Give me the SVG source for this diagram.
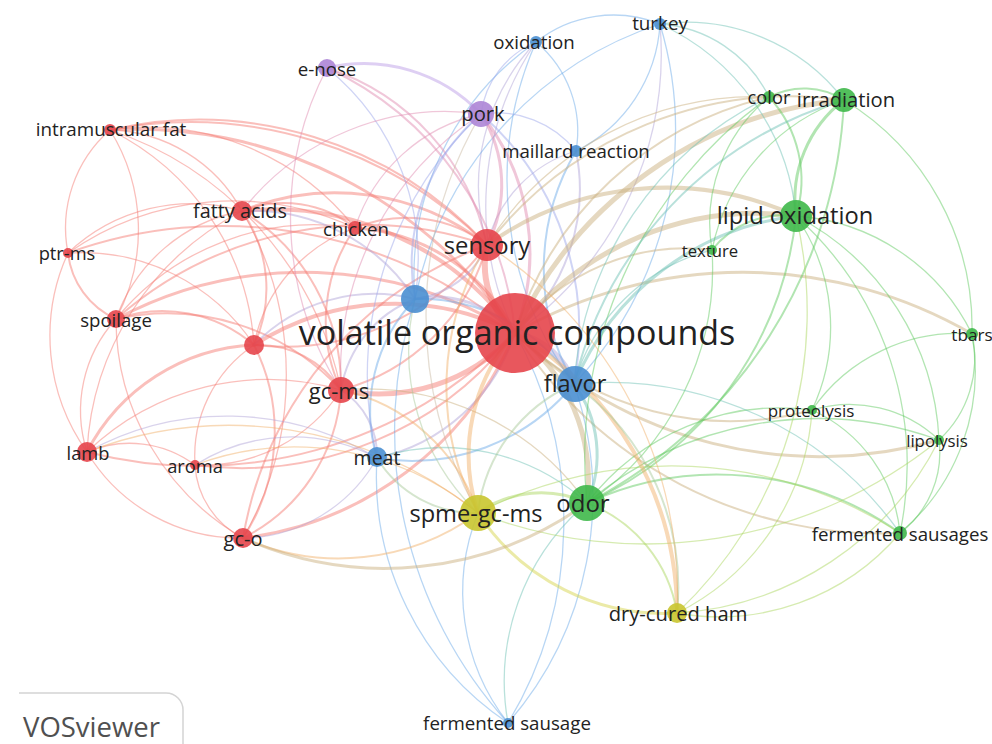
<svg xmlns="http://www.w3.org/2000/svg" width="992" height="744" viewBox="0 0 992 744">
<style>
.e path{fill:none;stroke-linecap:round;stroke-opacity:.48}
.r{stroke:#f47a70}.b{stroke:#6aaae8}.g{stroke:#5ec85e}.y{stroke:#d6d448}.p{stroke:#bb9ae6}
.rg{stroke:#c8ae7c}.rb{stroke:#b0a2d8}.ry{stroke:#f0b068}.bg{stroke:#6cc0b4}.bp{stroke:#9aa6ea}
.gy{stroke:#aad65c}.pr{stroke:#e08ab0}.by{stroke:#a8c898}.pg{stroke:#a8b8a0}.py{stroke:#c8b8a0}
.w1{stroke-width:1.3}.w2{stroke-width:2}.w3{stroke-width:3}.w4{stroke-width:4}.w5{stroke-width:5}.w6{stroke-width:6}
.n circle{fill-opacity:.9}
.cr{fill:#e6454b}.cb{fill:#4a8fd2}.cg{fill:#3fb84a}.cy{fill:#c9c52f}.cp{fill:#ad85d6}
text{font-family:"Open Sans","Noto Sans","DejaVu Sans",sans-serif;fill:#222;text-anchor:middle;dominant-baseline:central}
</style>
<rect width="992" height="744" fill="#fff"/>
<g id="connectors" class="e">
<path class="r w6" d="M515 333A92 92 0 0 1 487 245"/>
<path class="r w5" d="M515 333A183 183 0 0 1 341 390"/>
<path class="r w4" d="M515 333A299 299 0 0 0 242 211"/>
<path class="r w3" d="M515 333A191 191 0 0 0 355 228"/>
<path class="r w4" d="M515 333A261 261 0 0 0 254 345"/>
<path class="r w3" d="M515 333A399 399 0 0 0 116 319"/>
<path class="r w2" d="M515 333A444 444 0 0 1 87 452"/>
<path class="r w2" d="M515 333A346 346 0 0 1 195 465"/>
<path class="r w3" d="M515 333A340 340 0 0 1 243 538"/>
<path class="r w3" d="M515 333A453 453 0 0 0 110 130"/>
<path class="r w2" d="M515 333A454 454 0 0 0 68 253"/>
<path class="r w3" d="M487 245A247 247 0 0 0 242 211"/>
<path class="r w2" d="M487 245A133 133 0 0 0 355 228"/>
<path class="r w2" d="M487 245A206 206 0 0 1 341 390"/>
<path class="r w2" d="M487 245A394 394 0 0 0 110 130"/>
<path class="r w2" d="M487 245A254 254 0 0 1 254 345"/>
<path class="r w2" d="M487 245A378 378 0 0 0 116 319"/>
<path class="r w2" d="M242 211A135 135 0 0 1 254 345"/>
<path class="r w2" d="M242 211A205 205 0 0 1 341 390"/>
<path class="r w1" d="M242 211A155 155 0 0 0 110 130"/>
<path class="r w1" d="M242 211A179 179 0 0 0 68 253"/>
<path class="r w1" d="M242 211A166 166 0 0 0 116 319"/>
<path class="r w1" d="M242 211A287 287 0 0 0 87 452"/>
<path class="r w1" d="M242 211A327 327 0 0 1 243 538"/>
<path class="r w2" d="M242 211A114 114 0 0 1 355 228"/>
<path class="r w2" d="M341 390A98 98 0 0 0 254 345"/>
<path class="r w1" d="M341 390A261 261 0 0 0 87 452"/>
<path class="r w2" d="M341 390A178 178 0 0 1 243 538"/>
<path class="r w1" d="M341 390A164 164 0 0 1 195 465"/>
<path class="r w2" d="M341 390A236 236 0 0 0 116 319"/>
<path class="r w2" d="M341 390A163 163 0 0 1 355 228"/>
<path class="r w2" d="M254 345A140 140 0 0 0 116 319"/>
<path class="r w3" d="M254 345A198 198 0 0 0 87 452"/>
<path class="r w2" d="M254 345A193 193 0 0 1 243 538"/>
<path class="r w1" d="M254 345A207 207 0 0 0 68 253"/>
<path class="r w1" d="M87 452A136 136 0 0 1 116 319"/>
<path class="r w1" d="M87 452A200 200 0 0 1 68 253"/>
<path class="r w1" d="M87 452A178 178 0 0 0 243 538"/>
<path class="r w1" d="M87 452A109 109 0 0 1 195 465"/>
<path class="r w2" d="M68 253A82 82 0 0 0 116 319"/>
<path class="r w1" d="M68 253A130 130 0 0 1 110 130"/>
<path class="r w1" d="M110 130A189 189 0 0 1 116 319"/>
<path class="r w1" d="M110 130A348 348 0 0 1 341 390"/>
<path class="r w1" d="M110 130A259 259 0 0 1 254 345"/>
<path class="r w1" d="M195 465A87 87 0 0 0 243 538"/>
<path class="r w1" d="M195 465A134 134 0 0 1 254 345"/>
<path class="r w2" d="M243 538A381 381 0 0 1 487 245"/>
<path class="r w1" d="M243 538A253 253 0 0 1 116 319"/>
<path class="r w1" d="M355 228A155 155 0 0 0 254 345"/>
<path class="r w1" d="M68 253A288 288 0 0 1 355 228"/>
<path class="r w1" d="M116 319A256 256 0 0 1 355 228"/>
<path class="r w1" d="M110 130A264 264 0 0 1 355 228"/>
<path class="r w2" d="M110 130A420 420 0 0 1 487 245"/>
<path class="rb w3" d="M515 333A106 106 0 0 0 415 299"/>
<path class="rb w2" d="M341 390A77 77 0 0 1 377 458"/>
<path class="rb w2" d="M515 333A186 186 0 0 1 377 458"/>
<path class="rb w2" d="M487 245A90 90 0 0 1 415 299"/>
<path class="rb w2" d="M341 390A117 117 0 0 1 415 299"/>
<path class="rb w2" d="M242 211A194 194 0 0 1 415 299"/>
<path class="rb w2" d="M254 345A167 167 0 0 1 415 299"/>
<path class="rb w1" d="M87 452A290 290 0 0 1 377 458"/>
<path class="rb w1" d="M195 465A182 182 0 0 1 377 458"/>
<path class="rb w1" d="M243 538A156 156 0 0 0 377 458"/>
<path class="rb w1" d="M487 245A129 129 0 0 1 576 151"/>
<path class="rb w1" d="M487 245A209 209 0 0 1 536 42"/>
<path class="rb w2" d="M515 333A192 192 0 0 0 576 151"/>
<path class="rb w1" d="M515 333A292 292 0 0 1 536 42"/>
<path class="rb w1" d="M515 333A341 341 0 0 0 660 24"/>
<path class="rb w6" d="M515 333A78 78 0 0 1 574 384"/>
<path class="b w2" d="M574 384A180 180 0 0 0 415 299"/>
<path class="b w2" d="M574 384A210 210 0 0 1 377 458"/>
<path class="b w2" d="M574 384A233 233 0 0 1 576 151"/>
<path class="b w1" d="M574 384A344 344 0 0 1 536 42"/>
<path class="b w1" d="M574 384A370 370 0 0 0 660 24"/>
<path class="b w1" d="M536 42A125 125 0 0 1 660 24"/>
<path class="b w1" d="M536 42A116 116 0 0 1 576 151"/>
<path class="b w1" d="M576 151A152 152 0 0 0 660 24"/>
<path class="b w2" d="M415 299A163 163 0 0 0 377 458"/>
<path class="b w1" d="M415 299A284 284 0 0 1 536 42"/>
<path class="b w1" d="M415 299A368 368 0 0 1 660 24"/>
<path class="b w1" d="M508 723A345 345 0 0 0 574 384"/>
<path class="b w1" d="M508 723A212 212 0 0 1 478 513"/>
<path class="b w1" d="M508 723A296 296 0 0 1 377 458"/>
<path class="b w1" d="M508 723A390 390 0 0 0 515 333"/>
<path class="bg w1" d="M508 723A234 234 0 0 1 587 503"/>
<path class="b w1" d="M508 723A434 434 0 0 1 415 299"/>
<path class="by w2" d="M377 458A115 115 0 0 0 478 513"/>
<path class="bp w1" d="M536 42A91 91 0 0 0 481 114"/>
<path class="bp w1" d="M576 151A102 102 0 0 0 481 114"/>
<path class="p w3" d="M481 114A161 161 0 0 0 327 68"/>
<path class="pr w3" d="M481 114A131 131 0 0 1 487 245"/>
<path class="pr w3" d="M481 114A222 222 0 0 1 515 333"/>
<path class="pr w2" d="M327 68A239 239 0 0 1 487 245"/>
<path class="pr w2" d="M327 68A325 325 0 0 1 515 333"/>
<path class="bp w1" d="M327 68A247 247 0 0 1 415 299"/>
<path class="bp w2" d="M481 114A196 196 0 0 0 415 299"/>
<path class="bp w2" d="M481 114A286 286 0 0 1 574 384"/>
<path class="pr w1" d="M481 114A170 170 0 0 0 355 228"/>
<path class="pr w1" d="M481 114A309 309 0 0 0 341 390"/>
<path class="pr w1" d="M327 68A322 322 0 0 0 341 390"/>
<path class="bp w1" d="M481 114A359 359 0 0 0 377 458"/>
<path class="pr w1" d="M481 114A258 258 0 0 0 242 211"/>
<path class="py w1" d="M481 114A399 399 0 0 0 478 513"/>
<path class="rg w5" d="M515 333A304 304 0 0 1 796 216"/>
<path class="rg w5" d="M515 333A185 185 0 0 1 587 503"/>
<path class="rg w5" d="M515 333A403 403 0 0 1 844 100"/>
<path class="rg w2" d="M515 333A347 347 0 0 1 769 97"/>
<path class="rg w2" d="M515 333A214 214 0 0 1 712 250"/>
<path class="rg w2" d="M515 333A307 307 0 0 0 812 410"/>
<path class="rg w3" d="M515 333A437 437 0 0 0 939 440"/>
<path class="rg w2" d="M515 333A434 434 0 0 0 900 533"/>
<path class="rg w3" d="M515 333A457 457 0 0 1 972 334"/>
<path class="g w2" d="M587 503A355 355 0 0 0 796 216"/>
<path class="g w2" d="M587 503A478 478 0 0 0 844 100"/>
<path class="bg w3" d="M587 503A120 120 0 0 0 574 384"/>
<path class="gy w3" d="M587 503A109 109 0 0 0 478 513"/>
<path class="g w2" d="M587 503A314 314 0 0 1 900 533"/>
<path class="gy w2" d="M587 503A142 142 0 0 1 677 613"/>
<path class="g w1" d="M587 503A243 243 0 0 1 812 410"/>
<path class="g w1" d="M587 503A282 282 0 0 0 712 250"/>
<path class="g w1" d="M587 503A445 445 0 0 1 769 97"/>
<path class="g w1" d="M587 503A357 357 0 0 1 939 440"/>
<path class="bg w1" d="M587 503A215 215 0 0 0 377 458"/>
<path class="rg w1" d="M587 503A271 271 0 0 0 341 390"/>
<path class="g w3" d="M796 216A125 125 0 0 1 844 100"/>
<path class="g w2" d="M796 216A122 122 0 0 0 769 97"/>
<path class="g w2" d="M796 216A91 91 0 0 0 712 250"/>
<path class="g w1" d="M796 216A212 212 0 0 1 972 334"/>
<path class="g w1" d="M796 216A195 195 0 0 1 812 410"/>
<path class="g w1" d="M796 216A266 266 0 0 1 939 440"/>
<path class="g w1" d="M796 216A334 334 0 0 1 900 533"/>
<path class="bg w3" d="M796 216A278 278 0 0 0 574 384"/>
<path class="rg w4" d="M796 216A310 310 0 0 0 487 245"/>
<path class="bg w1" d="M796 216A235 235 0 0 0 660 24"/>
<path class="g w2" d="M844 100A75 75 0 0 0 769 97"/>
<path class="g w1" d="M844 100A200 200 0 0 0 712 250"/>
<path class="g w1" d="M844 100A267 267 0 0 1 972 334"/>
<path class="bg w2" d="M844 100A392 392 0 0 0 574 384"/>
<path class="bg w1" d="M844 100A199 199 0 0 0 660 24"/>
<path class="rg w2" d="M844 100A385 385 0 0 0 487 245"/>
<path class="g w1" d="M769 97A163 163 0 0 0 712 250"/>
<path class="bg w1" d="M769 97A347 347 0 0 0 574 384"/>
<path class="bg w1" d="M769 97A131 131 0 0 0 660 24"/>
<path class="rg w1" d="M769 97A318 318 0 0 0 487 245"/>
<path class="g w1" d="M812 410A130 130 0 0 1 939 440"/>
<path class="g w1" d="M812 410A151 151 0 0 1 900 533"/>
<path class="g w1" d="M812 410A177 177 0 0 1 972 334"/>
<path class="g w1" d="M939 440A101 101 0 0 1 900 533"/>
<path class="g w1" d="M939 440A111 111 0 0 0 972 334"/>
<path class="g w1" d="M900 533A212 212 0 0 0 972 334"/>
<path class="gy w1" d="M900 533A237 237 0 0 1 677 613"/>
<path class="bg w1" d="M900 533A358 358 0 0 0 574 384"/>
<path class="gy w1" d="M812 410A244 244 0 0 1 677 613"/>
<path class="gy w1" d="M939 440A314 314 0 0 1 677 613"/>
<path class="bg w1" d="M712 250A192 192 0 0 0 574 384"/>
<path class="gy w1" d="M900 533A422 422 0 0 0 478 513"/>
<path class="gy w1" d="M939 440A467 467 0 0 1 478 513"/>
<path class="ry w4" d="M478 513A184 184 0 0 1 515 333"/>
<path class="y w3" d="M478 513A223 223 0 0 0 677 613"/>
<path class="by w2" d="M478 513A161 161 0 0 1 574 384"/>
<path class="ry w2" d="M478 513A184 184 0 0 0 341 390"/>
<path class="ry w2" d="M478 513A236 236 0 0 1 243 538"/>
<path class="ry w4" d="M677 613A324 324 0 0 0 515 333"/>
<path class="by w2" d="M677 613A251 251 0 0 0 574 384"/>
<path class="ry w1" d="M677 613A414 414 0 0 0 487 245"/>
<path class="ry w2" d="M478 513A268 268 0 0 1 487 245"/>
<path class="ry w1" d="M478 513A396 396 0 0 0 87 452"/>
<path class="ry w1" d="M478 513A287 287 0 0 0 195 465"/>
<path class="by w1" d="M478 513A223 223 0 0 1 415 299"/>
<path class="gy w1" d="M677 613A414 414 0 0 0 796 216"/>
<path class="rg w3" d="M243 538A346 346 0 0 0 587 503"/>
</g>
<g id="nodes" class="n">
<g id="n-voc"><circle class="cr" cx="515" cy="333" r="40"/></g>
<g id="n-sensory"><circle class="cr" cx="487" cy="245" r="16"/></g>
<g id="n-flavor"><circle class="cb" cx="575" cy="384" r="18"/></g>
<g id="n-odor"><circle class="cg" cx="587" cy="503" r="18"/></g>
<g id="n-spme"><circle class="cy" cx="478" cy="513" r="18"/></g>
<g id="n-lipidox"><circle class="cg" cx="796" cy="216" r="16"/></g>
<g id="n-irradiation"><circle class="cg" cx="844" cy="100" r="12"/></g>
<g id="n-color"><circle class="cg" cx="769" cy="97" r="6"/></g>
<g id="n-turkey"><circle class="cb" cx="660" cy="24" r="6"/></g>
<g id="n-oxidation"><circle class="cb" cx="536" cy="42" r="6"/></g>
<g id="n-enose"><circle class="cp" cx="327" cy="68" r="9"/></g>
<g id="n-pork"><circle class="cp" cx="481" cy="114" r="13"/></g>
<g id="n-maillard"><circle class="cb" cx="576" cy="151" r="6"/></g>
<g id="n-imf"><circle class="cr" cx="110" cy="130" r="6"/></g>
<g id="n-fatty"><circle class="cr" cx="242" cy="211" r="10"/></g>
<g id="n-chicken"><circle class="cr" cx="355" cy="228" r="7"/></g>
<g id="n-ptrms"><circle class="cr" cx="68" cy="253" r="5"/></g>
<g id="n-spoilage"><circle class="cr" cx="116" cy="319" r="9"/></g>
<g id="n-red-unlabeled"><circle class="cr" cx="254" cy="345" r="10"/></g>
<g id="n-blue-unlabeled"><circle class="cb" cx="415" cy="299" r="14"/></g>
<g id="n-gcms"><circle class="cr" cx="341" cy="390" r="13"/></g>
<g id="n-lamb"><circle class="cr" cx="87" cy="452" r="10"/></g>
<g id="n-aroma"><circle class="cr" cx="195" cy="465" r="5"/></g>
<g id="n-meat"><circle class="cb" cx="377" cy="457" r="10"/></g>
<g id="n-gco"><circle class="cr" cx="243" cy="538" r="10"/></g>
<g id="n-texture"><circle class="cg" cx="712" cy="250" r="5"/></g>
<g id="n-tbars"><circle class="cg" cx="972" cy="334" r="6"/></g>
<g id="n-proteolysis"><circle class="cg" cx="812" cy="410" r="5"/></g>
<g id="n-lipolysis"><circle class="cg" cx="939" cy="440" r="5"/></g>
<g id="n-fsausages"><circle class="cg" cx="900" cy="533" r="7"/></g>
<g id="n-dch"><circle class="cy" cx="677" cy="613" r="10"/></g>
<g id="n-fsausage"><circle class="cb" cx="508" cy="723" r="5"/></g>
</g>
<g id="labels">
<text x="517" y="332" font-size="34">volatile organic compounds</text>
<text x="487" y="245" font-size="23.8">sensory</text>
<text x="575" y="383" font-size="23.6">flavor</text>
<text x="583" y="502" font-size="24">odor</text>
<text x="476" y="513" font-size="23.6">spme-gc-ms</text>
<text x="795" y="215" font-size="23.7">lipid oxidation</text>
<text x="846" y="99" font-size="20.2">irradiation</text>
<text x="769" y="96" font-size="18.3">color</text>
<text x="660" y="23" font-size="18.8">turkey</text>
<text x="534" y="41" font-size="18.7">oxidation</text>
<text x="327" y="68" font-size="18.7">e-nose</text>
<text x="483" y="113" font-size="20.3">pork</text>
<text x="576" y="150" font-size="18.7">maillard reaction</text>
<text x="111" y="129" font-size="18.8">intramuscular fat</text>
<text x="240" y="210" font-size="19.8">fatty acids</text>
<text x="356" y="228" font-size="18.7">chicken</text>
<text x="67" y="252" font-size="18.3">ptr-ms</text>
<text x="116" y="319" font-size="18.6">spoilage</text>
<text x="339" y="390" font-size="22">gc-ms</text>
<text x="88" y="452" font-size="18.3">lamb</text>
<text x="195" y="465" font-size="18.3">aroma</text>
<text x="377" y="457" font-size="19.5">meat</text>
<text x="243" y="538" font-size="20">gc-o</text>
<text x="710" y="250" font-size="16.7">texture</text>
<text x="972" y="334" font-size="17.2">tbars</text>
<text x="811" y="410" font-size="17">proteolysis</text>
<text x="937" y="440" font-size="16.8">lipolysis</text>
<text x="900" y="533" font-size="18.7">fermented sausages</text>
<text x="678" y="613" font-size="20.2">dry-cured ham</text>
<text x="507" y="722" font-size="18.7">fermented sausage</text>
</g>
<g id="logo">
<path d="M19 693H166a17 17 0 0 1 17 17V744" fill="#fff" stroke="#d4d4d4" stroke-width="1.5"/>
<text x="23" y="737" font-size="27.5" style="text-anchor:start;dominant-baseline:alphabetic;fill:#505050">VOSviewer</text>
</g>
</svg>
